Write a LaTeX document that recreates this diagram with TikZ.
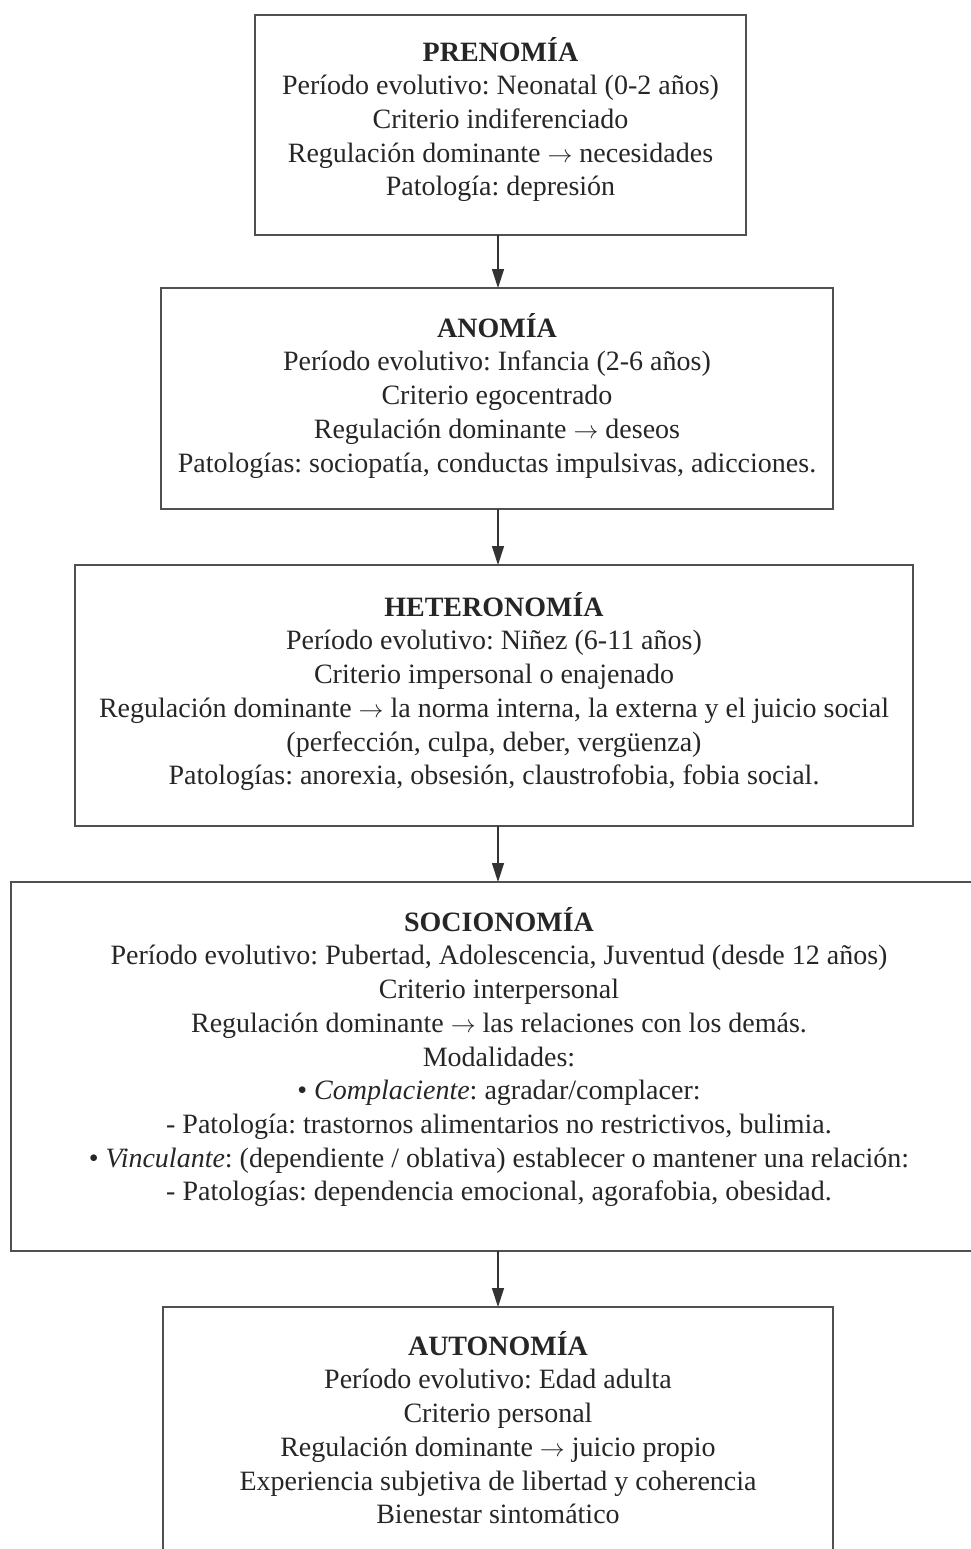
\documentclass[tikz,border=0pt]{standalone}
\usepackage{fontspec}
\setmainfont{Liberation Serif}
\usetikzlibrary{arrows.meta}
\definecolor{boxgray}{HTML}{505050}
\definecolor{textc}{HTML}{262626}
\definecolor{arrc}{HTML}{333333}
\begin{document}
\frenchspacing
\begin{tikzpicture}[x=1pt,y=-1pt,
  box/.style={draw=boxgray, line width=1.4pt, rectangle, inner sep=0pt, outer sep=0pt, anchor=north west},
  txt/.style={anchor=north, inner sep=0pt, align=center, font=\fontsize{28}{33.7}\selectfont\frenchspacing, text=textc},
  arr/.style={draw=arrc, line width=1.2pt, -{Triangle[width=12pt,length=19pt]}}]
\useasboundingbox (0,0) rectangle (971,1549);
\node[box, minimum width=491pt, minimum height=220pt] (b1) at (255,15) {};
\node[box, minimum width=672pt, minimum height=221pt] (b2) at (161,288) {};
\node[box, minimum width=838pt, minimum height=261pt] (b3) at (75,565) {};
\node[box, minimum width=976pt, minimum height=369pt] (b4) at (11,882) {};
\node[box, minimum width=670pt, minimum height=260pt] (b5) at (163,1307) {};
\coordinate (ax) at (498,0);
\draw[arr] (b1.south -| ax) -- (b2.north -| ax);
\draw[arr] (b2.south -| ax) -- (b3.north -| ax);
\draw[arr] (b3.south -| ax) -- (b4.north -| ax);
\draw[arr] (b4.south -| ax) -- (b5.north -| ax);
\node[txt] (t1) at (500.5,34) {\rule{0pt}{27pt}\textbf{PRENOMÍA}\\
Período evolutivo: Neonatal (0-2 años)\\
Criterio indiferenciado\\
Regulación dominante $\rightarrow$ necesidades\\
Patología: depresión};
\node[txt] (t2) at (497,310) {\rule{0pt}{27pt}\textbf{ANOMÍA}\\
Período evolutivo: Infancia (2-6 años)\\
Criterio egocentrado\\
Regulación dominante $\rightarrow$ deseos\\
Patologías: sociopatía, conductas impulsivas, adicciones.};
\node[txt] (t3) at (494,589) {\rule{0pt}{27pt}\textbf{HETERONOMÍA}\\
Período evolutivo: Niñez (6-11 años)\\
Criterio impersonal o enajenado\\
Regulación dominante $\rightarrow$ la norma interna, la externa y el juicio social\\
(perfección, culpa, deber, vergüenza)\\
Patologías: anorexia, obsesión, claustrofobia, fobia social.};
\node[txt] (t4) at (499,904) {\rule{0pt}{27pt}\textbf{SOCIONOMÍA}\\
Período evolutivo: Pubertad, Adolescencia, Juventud (desde 12 años)\\
Criterio interpersonal\\
Regulación dominante $\rightarrow$ las relaciones con los demás.\\
Modalidades:\\
• \textit{Complaciente}: agradar/complacer:\\
- Patología: trastornos alimentarios no restrictivos, bulimia.\\
• \textit{Vinculante}: (dependiente / oblativa) establecer o mantener una relación:\\
- Patologías: dependencia emocional, agorafobia, obesidad.};
\node[txt] (t5) at (498,1328) {\rule{0pt}{27pt}\textbf{AUTONOMÍA}\\
Período evolutivo: Edad adulta\\
Criterio personal\\
Regulación dominante $\rightarrow$ juicio propio\\
Experiencia subjetiva de libertad y coherencia\\
Bienestar sintomático};
\end{tikzpicture}
\end{document}
